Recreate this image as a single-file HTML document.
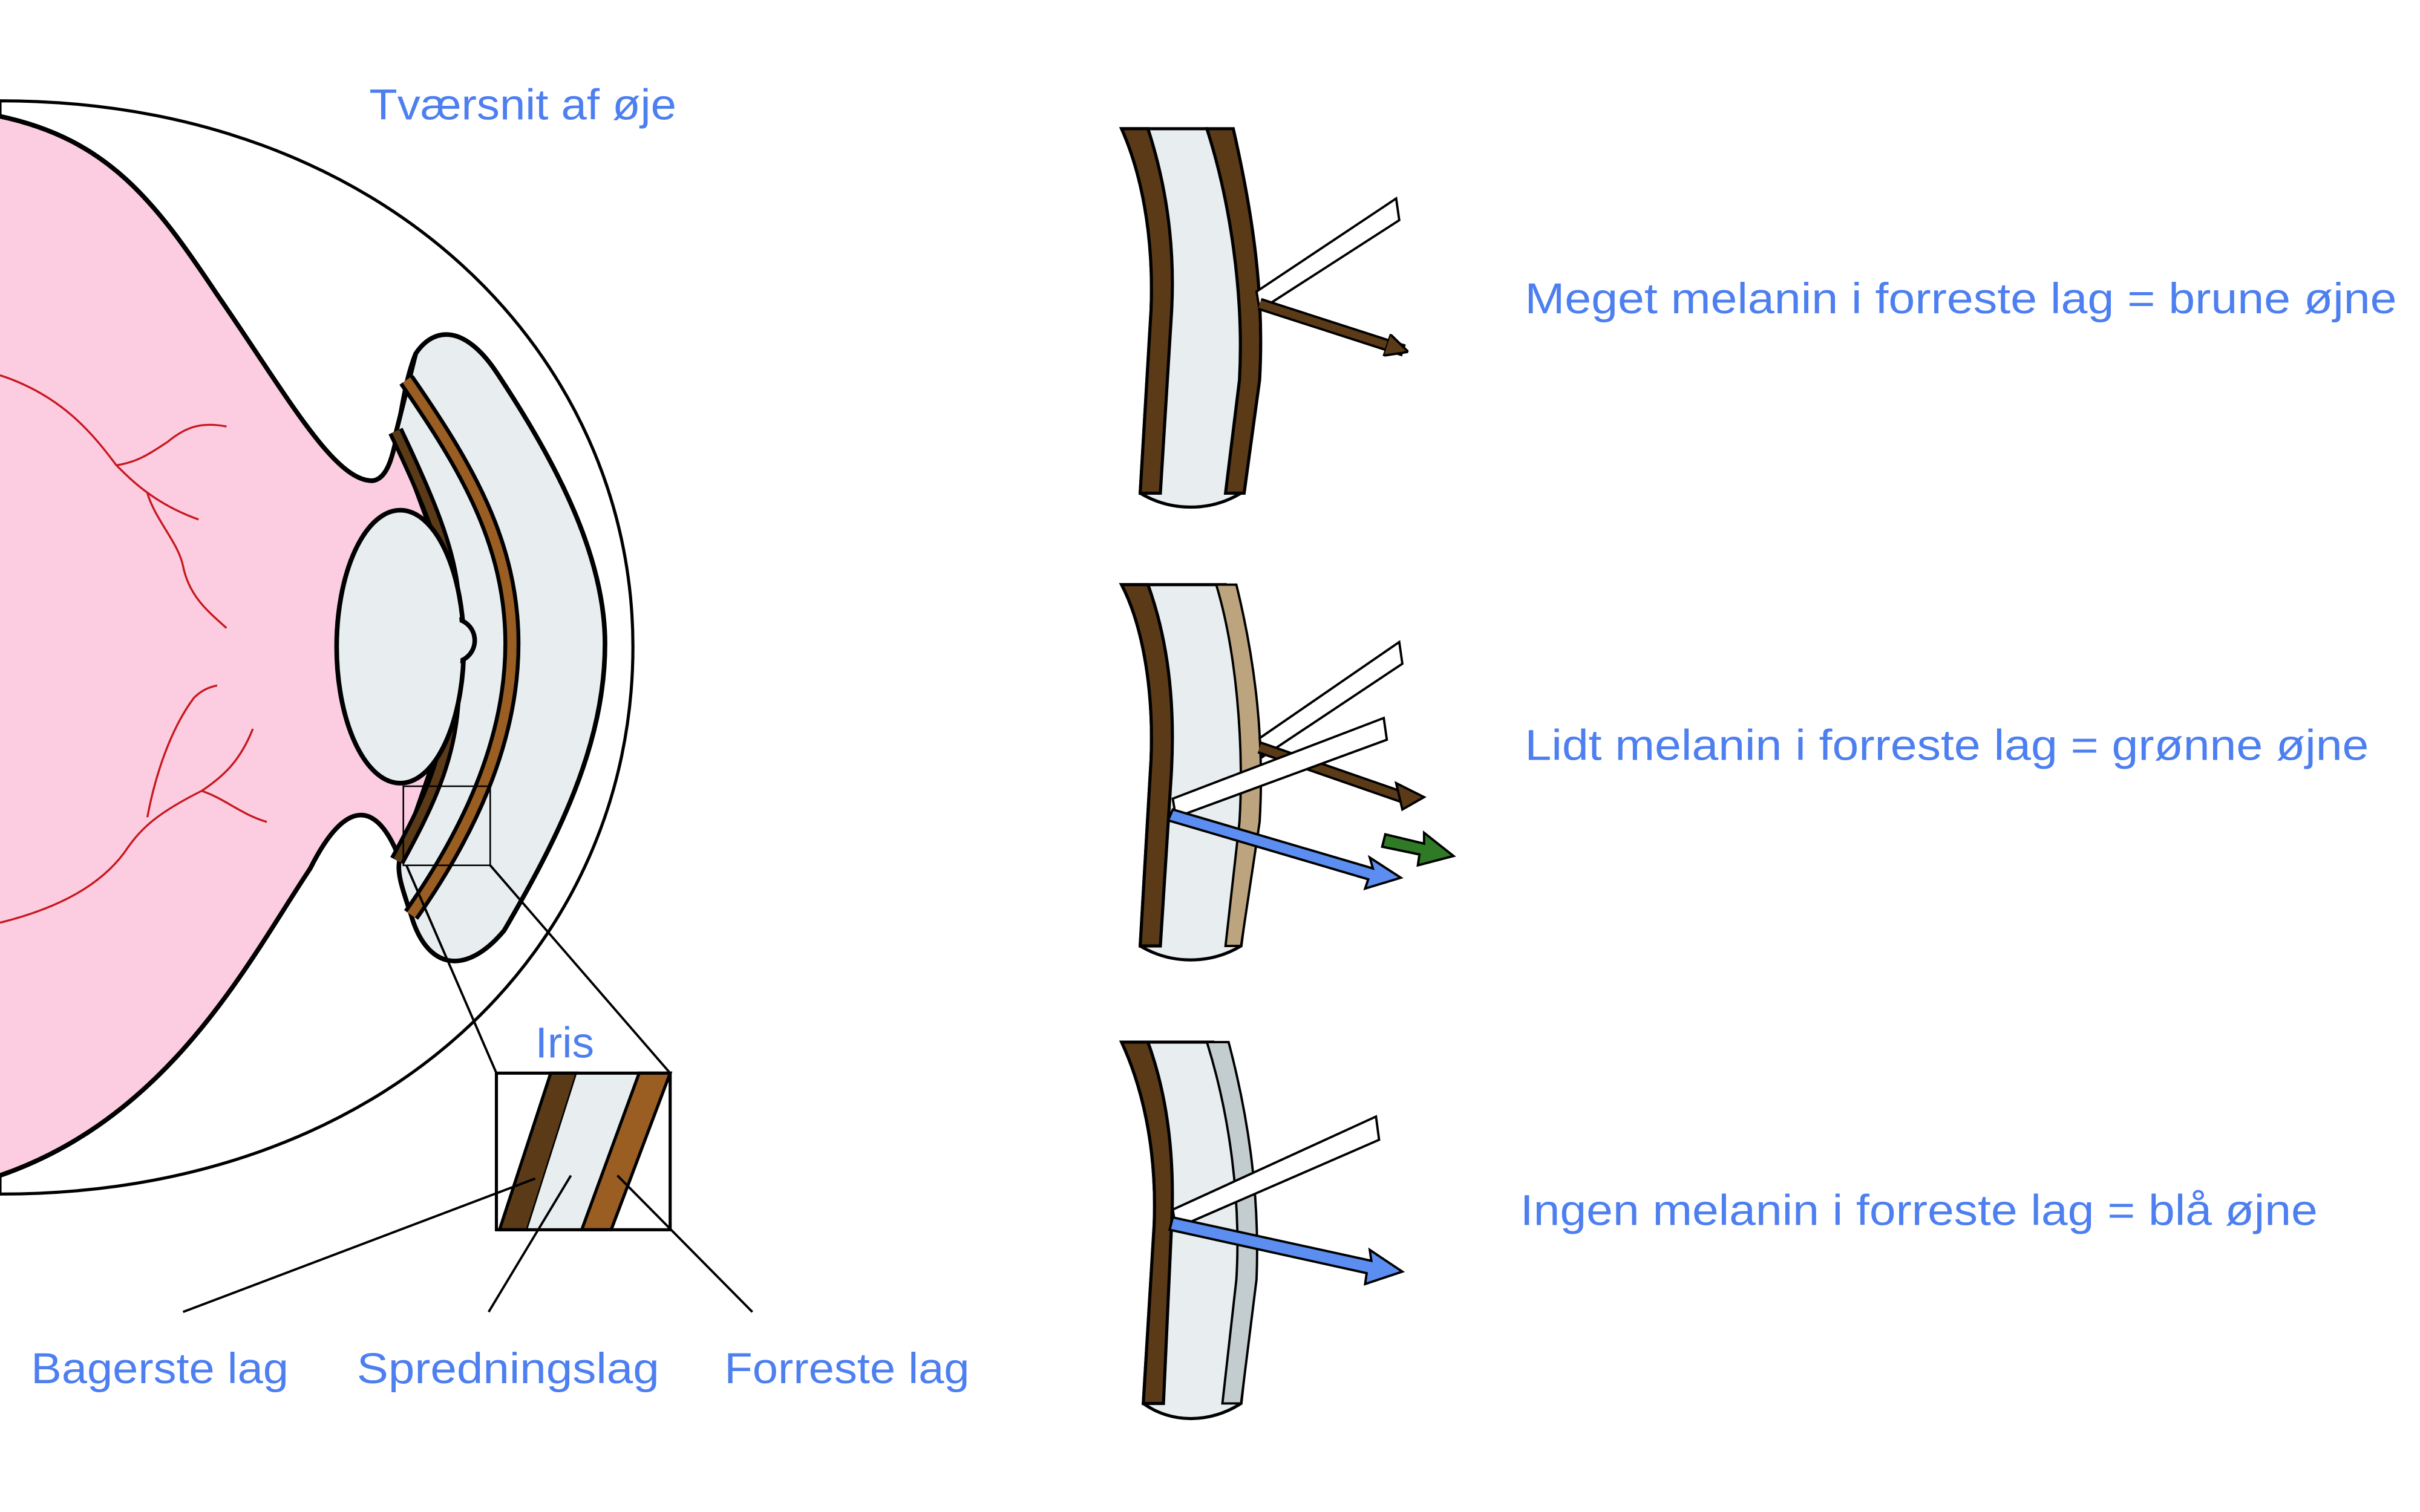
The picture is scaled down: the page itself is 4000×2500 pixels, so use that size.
<!DOCTYPE html>
<html><head><meta charset="utf-8"><style>
html,body{margin:0;padding:0;background:#fff;width:4000px;height:2500px;overflow:hidden}
svg{display:block}
text{font-family:"Liberation Sans",sans-serif;fill:#4d7ff0;font-size:28px}
</style></head><body>
<svg width="4000" height="2500" viewBox="0 0 1560 975" xmlns="http://www.w3.org/2000/svg">
<defs>
<marker id="ab" viewBox="0 0 10 10" refX="8" refY="5" markerWidth="3" markerHeight="3" orient="auto"><path d="M0,0 L10,5 L0,10 Z" fill="#5a3a17" stroke="#000" stroke-width="1"/></marker>
</defs>
<path d="M0,65 C250,65 408,230 408,417 C408,610 250,770 0,770 Z" fill="#fff" stroke="#000" stroke-width="2"/>
<path d="M0,75 C70,90 100,130 140,190 C185,255 215,310 240,310 C258,308 255,260 268,228 L292,380 L292,455 L258,555 C245,520 225,510 200,560 C160,620 110,720 0,758 Z" fill="#fccde0" stroke="none"/>
<path d="M0,75 C70,90 100,130 140,190 C185,255 215,310 240,310 C258,308 255,260 268,228" fill="none" stroke="#000" stroke-width="3"/>
<path d="M258,555 C245,520 225,510 200,560 C160,620 110,720 0,758" fill="none" stroke="#000" stroke-width="3"/>
<g fill="none" stroke="#c8161e" stroke-width="1.3">
<path d="M0,242 C40,255 60,280 75,300 C90,298 100,290 108,285 C120,275 130,272 146,275"/>
<path d="M75,300 C85,310 100,325 128,335"/>
<path d="M95,318 C100,335 115,350 118,365 C122,385 135,395 146,405"/>
<path d="M0,595 C40,585 65,570 80,550 C90,535 100,525 130,510 C145,500 155,490 163,470"/>
<path d="M130,510 C145,515 155,525 172,530"/>
<path d="M95,527 C100,500 110,470 125,450 C130,445 135,443 140,442"/>
</g>
<path d="M268,228 C280,210 300,210 320,240 C360,300 390,360 390,415 C390,480 360,540 325,600 C300,630 275,625 265,590 C260,575 255,562 258,553 L292,455 L292,380 L255,280 Z" fill="#e8eef0" stroke="#000" stroke-width="3"/>
<path d="M262,245 C300,300 330,350 330,415 C330,480 300,540 265,590" fill="none" stroke="#000" stroke-width="11"/>
<path d="M262,245 C300,300 330,350 330,415 C330,480 300,540 265,590" fill="none" stroke="#9a5d22" stroke-width="6"/>
<path d="M255,278 C275,320 290,355 292,385 M292,450 C290,490 275,520 256,555" fill="none" stroke="#000" stroke-width="10"/>
<path d="M255,278 C275,320 290,355 292,385 M292,450 C290,490 275,520 256,555" fill="none" stroke="#5a3a17" stroke-width="5"/>
<ellipse cx="258" cy="417" rx="41" ry="88" fill="#e8eef0" stroke="#000" stroke-width="3"/>
<circle cx="292" cy="413" r="14" fill="#e8eef0" stroke="#000" stroke-width="3"/>
<ellipse cx="258" cy="417" rx="39" ry="86" fill="#e8eef0"/>
<circle cx="292" cy="413" r="12.5" fill="#e8eef0"/>
<rect x="260" y="507" width="56" height="51" fill="none" stroke="#000" stroke-width="1"/>
<line x1="262" y1="558" x2="320" y2="692" stroke="#000" stroke-width="1.5"/>
<line x1="316" y1="558" x2="432" y2="692" stroke="#000" stroke-width="1.5"/>
<rect x="320" y="692" width="112" height="101" fill="#fff"/>
<path d="M355,692 L372,692 L340,793 L322,793 Z" fill="#5a3a17" stroke="#000" stroke-width="2"/>
<path d="M372,692 L412,692 L375,793 L340,793 Z" fill="#e8eef0"/>
<path d="M412,692 L432,692 L394,793 L375,793 Z" fill="#9a5d22" stroke="#000" stroke-width="2"/>
<rect x="320" y="692" width="112" height="101" fill="none" stroke="#000" stroke-width="2"/>
<line x1="345" y1="760" x2="118" y2="846" stroke="#000" stroke-width="1.5"/>
<line x1="368" y1="758" x2="315" y2="846" stroke="#000" stroke-width="1.5"/>
<line x1="398" y1="758" x2="485" y2="846" stroke="#000" stroke-width="1.5"/>
<text x="238" y="77" textLength="198" lengthAdjust="spacingAndGlyphs">Tværsnit af øje</text>
<text x="345" y="682" textLength="38" lengthAdjust="spacingAndGlyphs">Iris</text>
<text x="20" y="892" textLength="166" lengthAdjust="spacingAndGlyphs">Bagerste lag</text>
<text x="230" y="892" textLength="195" lengthAdjust="spacingAndGlyphs">Spredningslag</text>
<text x="467" y="892" textLength="158" lengthAdjust="spacingAndGlyphs">Forreste lag</text>
<text x="983" y="202" textLength="562" lengthAdjust="spacingAndGlyphs">Meget melanin i forreste lag = brune øjne</text>
<text x="983" y="490" textLength="544" lengthAdjust="spacingAndGlyphs">Lidt melanin i forreste lag = grønne øjne</text>
<text x="980" y="790" textLength="514" lengthAdjust="spacingAndGlyphs">Ingen melanin i forreste lag = blå øjne</text>
<g>
<path d="M723,83 L778,83 C800,150 812,200 810,250 L800,318 C780,330 755,330 735,318 L742,200 C744,150 735,110 723,83 Z" fill="#e8eef0" stroke="#000" stroke-width="2"/>
<path d="M723,83 L740,83 C752,120 758,160 755,205 L748,318 L735,318 L742,200 C744,150 735,110 723,83 Z" fill="#5a3a17" stroke="#000" stroke-width="2"/>
<path d="M778,83 L795,83 C808,140 815,190 812,245 L802,318 L790,318 L799,245 C802,190 793,130 778,83 Z" fill="#5a3a17" stroke="#000" stroke-width="2"/>
<path d="M810,188 L900,128 L902,142 L812,200 Z" fill="#fff" stroke="#000" stroke-width="1.5"/>
<line x1="812" y1="196" x2="905" y2="226" stroke="#000" stroke-width="8"/>
<line x1="812" y1="196" x2="905" y2="226" stroke="#5a3a17" stroke-width="5" marker-end="url(#ab)"/>
</g>
<g>
<path d="M723,377 L790,377 C805,430 812,480 810,530 L800,610 C780,622 755,622 735,610 L742,490 C744,440 735,400 723,377 Z" fill="#e8eef0" stroke="#000" stroke-width="2"/>
<path d="M723,377 L740,377 C752,410 758,450 755,500 L748,610 L735,610 L742,490 C744,440 735,400 723,377 Z" fill="#5a3a17" stroke="#000" stroke-width="2"/>
<path d="M784,377 L797,377 C810,430 815,480 812,530 L800,610 L790,610 L799,530 C802,480 797,420 784,377 Z" fill="#bca47e" stroke="#000" stroke-width="1.5"/>
<path d="M812,476 L902,414 L904,428 L814,488 Z" fill="#fff" stroke="#000" stroke-width="1.5"/>
<line x1="812" y1="482" x2="907" y2="515" stroke="#000" stroke-width="8"/>
<line x1="812" y1="482" x2="907" y2="515" stroke="#5a3a17" stroke-width="5"/>
<path d="M900,505 L918,514 L904,522 Z" fill="#5a3a17" stroke="#000" stroke-width="1.5"/>
<path d="M756,515 L892,463 L894,477 L758,527 Z" fill="#fff" stroke="#000" stroke-width="1.5"/>
<path d="M756,522 L885,560 L883,553 L903,566 L880,573 L882,567 L753,529 Z" fill="#5b8ef0" stroke="#000" stroke-width="1.5"/>
<path d="M893,538 L918,544 L918,537 L937,552 L914,558 L915,551 L891,546 Z" fill="#2e7a25" stroke="#000" stroke-width="1.5"/>
</g>
<g>
<path d="M723,672 L782,672 C800,730 810,780 808,830 L800,905 C780,918 755,918 737,905 L744,790 C746,740 736,700 723,672 Z" fill="#e8eef0" stroke="#000" stroke-width="2"/>
<path d="M723,672 L740,672 C752,705 758,745 755,795 L750,905 L737,905 L744,790 C746,740 736,700 723,672 Z" fill="#5a3a17" stroke="#000" stroke-width="2"/>
<path d="M778,672 L792,672 C806,725 812,775 810,825 L800,905 L788,905 L797,825 C800,775 793,720 778,672 Z" fill="#c3cdd0" stroke="#000" stroke-width="1.5"/>
<path d="M756,780 L887,720 L889,735 L758,792 Z" fill="#fff" stroke="#000" stroke-width="1.5"/>
<path d="M756,785 L884,813 L883,806 L904,820 L880,828 L881,821 L754,793 Z" fill="#5b8ef0" stroke="#000" stroke-width="1.5"/>
</g>
</svg>
</body></html>
